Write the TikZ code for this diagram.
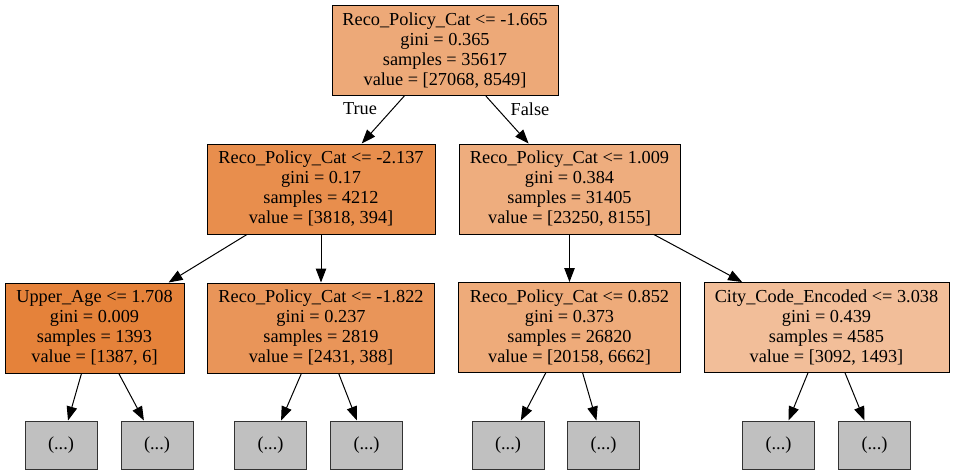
\documentclass[tikz,border=0pt]{standalone}
\usepackage{fontspec}
\setmainfont{Liberation Serif}
\usetikzlibrary{arrows.meta}
\definecolor{cRoot}{HTML}{EDA978}
\definecolor{cLL}{HTML}{E88E4D}
\definecolor{cLR}{HTML}{EEAD7E}
\definecolor{cUA}{HTML}{E5823A}
\definecolor{cLM}{HTML}{E99559}
\definecolor{cRM}{HTML}{EEAB7A}
\definecolor{cCity}{HTML}{F2BE99}
\definecolor{cLeaf}{HTML}{C0C0C0}
\tikzset{
  tnode/.style={draw=black, line width=1pt, rectangle, minimum height=90pt, inner sep=0pt, align=center,
    font=\fontsize{18.3}{20}\selectfont},
  leaf/.style={draw=black!80, line width=1pt, rectangle, fill=cLeaf, minimum width=72pt, minimum height=48pt, inner sep=0pt,
    font=\fontsize{18.3}{20}\selectfont},
  edge/.style={line width=1pt, -{Triangle[length=14pt,width=10.5pt]}},
  elab/.style={font=\fontsize{18.3}{20}\selectfont, inner sep=0pt}
}
\begin{document}
\begin{tikzpicture}[x=1pt,y=-1pt]
\useasboundingbox (0,0) rectangle (955,475);
\node[tnode, fill=cRoot, minimum width=226pt] (root) at (445,50.5) {Reco\_Policy\_Cat <= -1.665\\gini = 0.365\\samples = 35617\\value = [27068, 8549]};
\node[tnode, fill=cLL, minimum width=228pt] (ll) at (321,189) {Reco\_Policy\_Cat <= -2.137\\gini = 0.17\\samples = 4212\\value = [3818, 394]};
\node[tnode, fill=cLR, minimum width=221pt] (lr) at (569.5,189) {Reco\_Policy\_Cat <= 1.009\\gini = 0.384\\samples = 31405\\value = [23250, 8155]};
\node[tnode, fill=cUA, minimum width=179pt] (ua) at (94.5,328) {Upper\_Age <= 1.708\\gini = 0.009\\samples = 1393\\value = [1387, 6]};
\node[tnode, fill=cLM, minimum width=227pt] (lm) at (321,328) {Reco\_Policy\_Cat <= -1.822\\gini = 0.237\\samples = 2819\\value = [2431, 388]};
\node[tnode, fill=cRM, minimum width=222pt] (rm) at (569.5,327.5) {Reco\_Policy\_Cat <= 0.852\\gini = 0.373\\samples = 26820\\value = [20158, 6662]};
\node[tnode, fill=cCity, minimum width=245pt] (city) at (826.5,327.5) {City\_Code\_Encoded <= 3.038\\gini = 0.439\\samples = 4585\\value = [3092, 1493]};
\node[leaf] (f1) at (61,445) {(...)};
\node[leaf] (f2) at (157,445) {(...)};
\node[leaf] (f3) at (270.5,445) {(...)};
\node[leaf] (f4) at (366.5,445) {(...)};
\node[leaf] (f5) at (508,445) {(...)};
\node[leaf] (f6) at (603.5,445) {(...)};
\node[leaf] (f7) at (778.5,445) {(...)};
\node[leaf] (f8) at (874.5,445) {(...)};
\draw[edge] (root) -- (ll);
\draw[edge] (root) -- (lr);
\draw[edge] (ll) -- (ua);
\draw[edge] (ll) -- (lm);
\draw[edge] (lr) -- (rm);
\draw[edge] (lr) -- (city);
\draw[edge] (ua) -- (f1);
\draw[edge] (ua) -- (f2);
\draw[edge] (lm) -- (f3);
\draw[edge] (lm) -- (f4);
\draw[edge] (rm) -- (f5);
\draw[edge] (rm) -- (f6);
\draw[edge] (city) -- (f7);
\draw[edge] (city) -- (f8);
\node[elab] (tlab) at (360,109) {True};
\node[elab] (flab) at (530,109) {False};
\end{tikzpicture}
\end{document}
